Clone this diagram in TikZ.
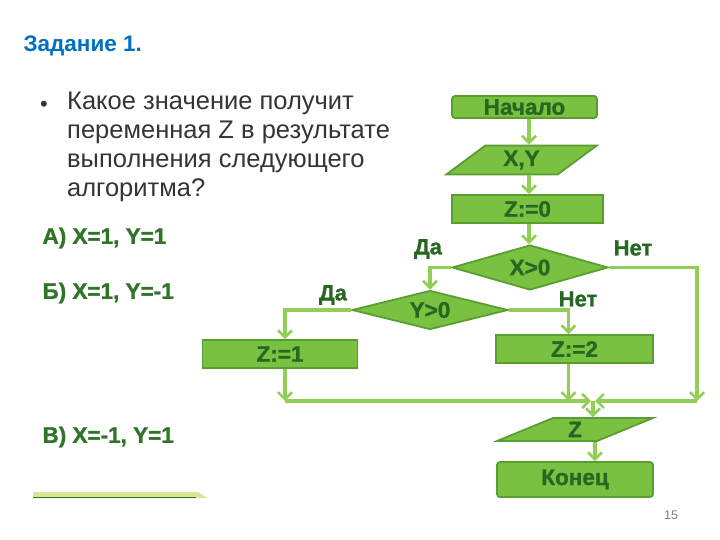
\documentclass[tikz,border=0pt]{standalone}
\usepackage{fontspec}
\setmainfont{Liberation Sans}
\newfontfamily\heavyfont[FakeBold=1.2]{Liberation Sans Bold}
\usetikzlibrary{shapes.geometric,arrows.meta}
\definecolor{boxfill}{RGB}{122,193,66}
\definecolor{boxdraw}{RGB}{88,158,48}
\definecolor{boxtext}{RGB}{38,104,34}
\definecolor{conn}{RGB}{146,206,86}
\definecolor{optcol}{RGB}{48,116,40}
\definecolor{titleblue}{RGB}{0,112,192}
\definecolor{qgray}{RGB}{52,52,52}
\begin{document}
\begin{tikzpicture}[x=1pt,y=-1pt,
  blk/.style={draw=boxdraw,fill=boxfill,line width=1.8pt,text=boxtext,
    font=\fontsize{22.5}{22.5}\selectfont\heavyfont,inner sep=0pt},
  proc/.style={blk,rectangle,minimum height=28,minimum width=155},
  term/.style={blk,rectangle,rounded corners=3pt},
  iobox/.style={blk,trapezium,trapezium stretches=true},
  cond/.style={blk,diamond},
  arr/.style={draw=conn,line width=3.4pt,-{Straight Barb[length=7pt,width=14pt,line width=2.6pt]}},
  lbl/.style={text=boxtext,font=\fontsize{22}{22}\selectfont\heavyfont},
  opt/.style={text=optcol,anchor=west,font=\fontsize{22.5}{22.5}\selectfont\heavyfont},
]
\useasboundingbox (0,0) rectangle (720,540);
% title and question
\node[anchor=west,text=titleblue,font=\fontsize{22.5}{22.5}\selectfont\bfseries] (title) at (20,46) {Задание 1.};
\node[text=qgray,font=\fontsize{22}{22}\selectfont] (bul) at (44,106) {•};
\node[anchor=north west,text=qgray,font=\fontsize{25.5}{29}\selectfont,align=left,inner sep=0pt] (q) at (67,92)
  {Какое значение получит\\переменная Z в результате\\выполнения следующего\\алгоритма?};
\node[opt] (oa) at (39,238) {А) X=1, Y=1};
\node[opt] (ob) at (39,293) {Б) X=1, Y=-1};
\node[opt] (oc) at (39,437) {В) X=-1, Y=1};
% bottom-left bar
\fill[fill={rgb,255:red,214;green,232;blue,150}] (33,492) -- (198,492) -- (207,498) -- (33,498) -- cycle;
\draw[draw={rgb,255:red,60;green,110;blue,30},line width=1.2pt] (33,497.5) -- (196,497.5);
% flowchart nodes
\node[term,minimum width=145,minimum height=22] (start) at (524.5,107) {Начало};
\node[iobox,minimum width=151,minimum height=29,trapezium left angle=44,trapezium right angle=136] (io1) at (521.5,160) {X,Y};
\node[proc,minimum width=151] (z0) at (527.5,209) {Z:=0};
\node[cond,aspect=3.5,minimum width=156,minimum height=45] (d1) at (530,267.5) {X>0};
\node[cond,aspect=4,minimum width=156,minimum height=39] (d2) at (430,310) {Y>0};
\node[proc] (z1) at (280,354) {Z:=1};
\node[proc,minimum width=157] (z2) at (574.5,349) {Z:=2};
\node[iobox,minimum width=156,minimum height=23,trapezium left angle=41.5,trapezium right angle=138.5] (io2) at (575,429.5) {Z};
\node[term,minimum width=156,minimum height=35] (end) at (575,479.5) {Конец};
% labels
\node[lbl] (la1) at (428,249) {Да};
\node[lbl] (ln1) at (633,248) {Нет};
\node[lbl] (la2) at (333,295) {Да};
\node[lbl] (ln2) at (578,299) {Нет};
\node[text=gray,font=\fontsize{12.5}{12.5}\selectfont] (pg) at (671,515) {15};
% connector points
\coordinate (R) at (697,401);
\coordinate (L) at (285,401);
\coordinate (M) at (593,401);
% connectors
\draw[arr] ([xshift=4.5]start.south) -- ([xshift=4.5]start.south |- io1.north);
\draw[arr] ([xshift=7.5]io1.south) -- ([xshift=7.5]io1.south |- z0.north);
\draw[arr] ([xshift=1.5]z0.south) -- ([xshift=1.5]z0.south |- d1.north);
\draw[arr] (d1.west) -| (d2.north);
\draw[arr] (d1.east) -| (R);
\draw[arr] (d2.west) -| ([xshift=5]z1.north);
\draw[arr] (d2.east) -| ([xshift=-6]z2.north);
\draw[arr] ([xshift=5]z1.south) -- (L);
\draw[arr] ([xshift=-6]z2.south) -- ([xshift=-6]z2.south |- M);
\draw[arr] (L) -- ([xshift=-2]M);
\draw[arr] (R) -- ([xshift=2]M);
\draw[arr] (M) -- (M |- io2.north);
\draw[arr] ([xshift=20]io2.south) -- ([xshift=20]io2.south |- end.north);
\end{tikzpicture}
\end{document}
